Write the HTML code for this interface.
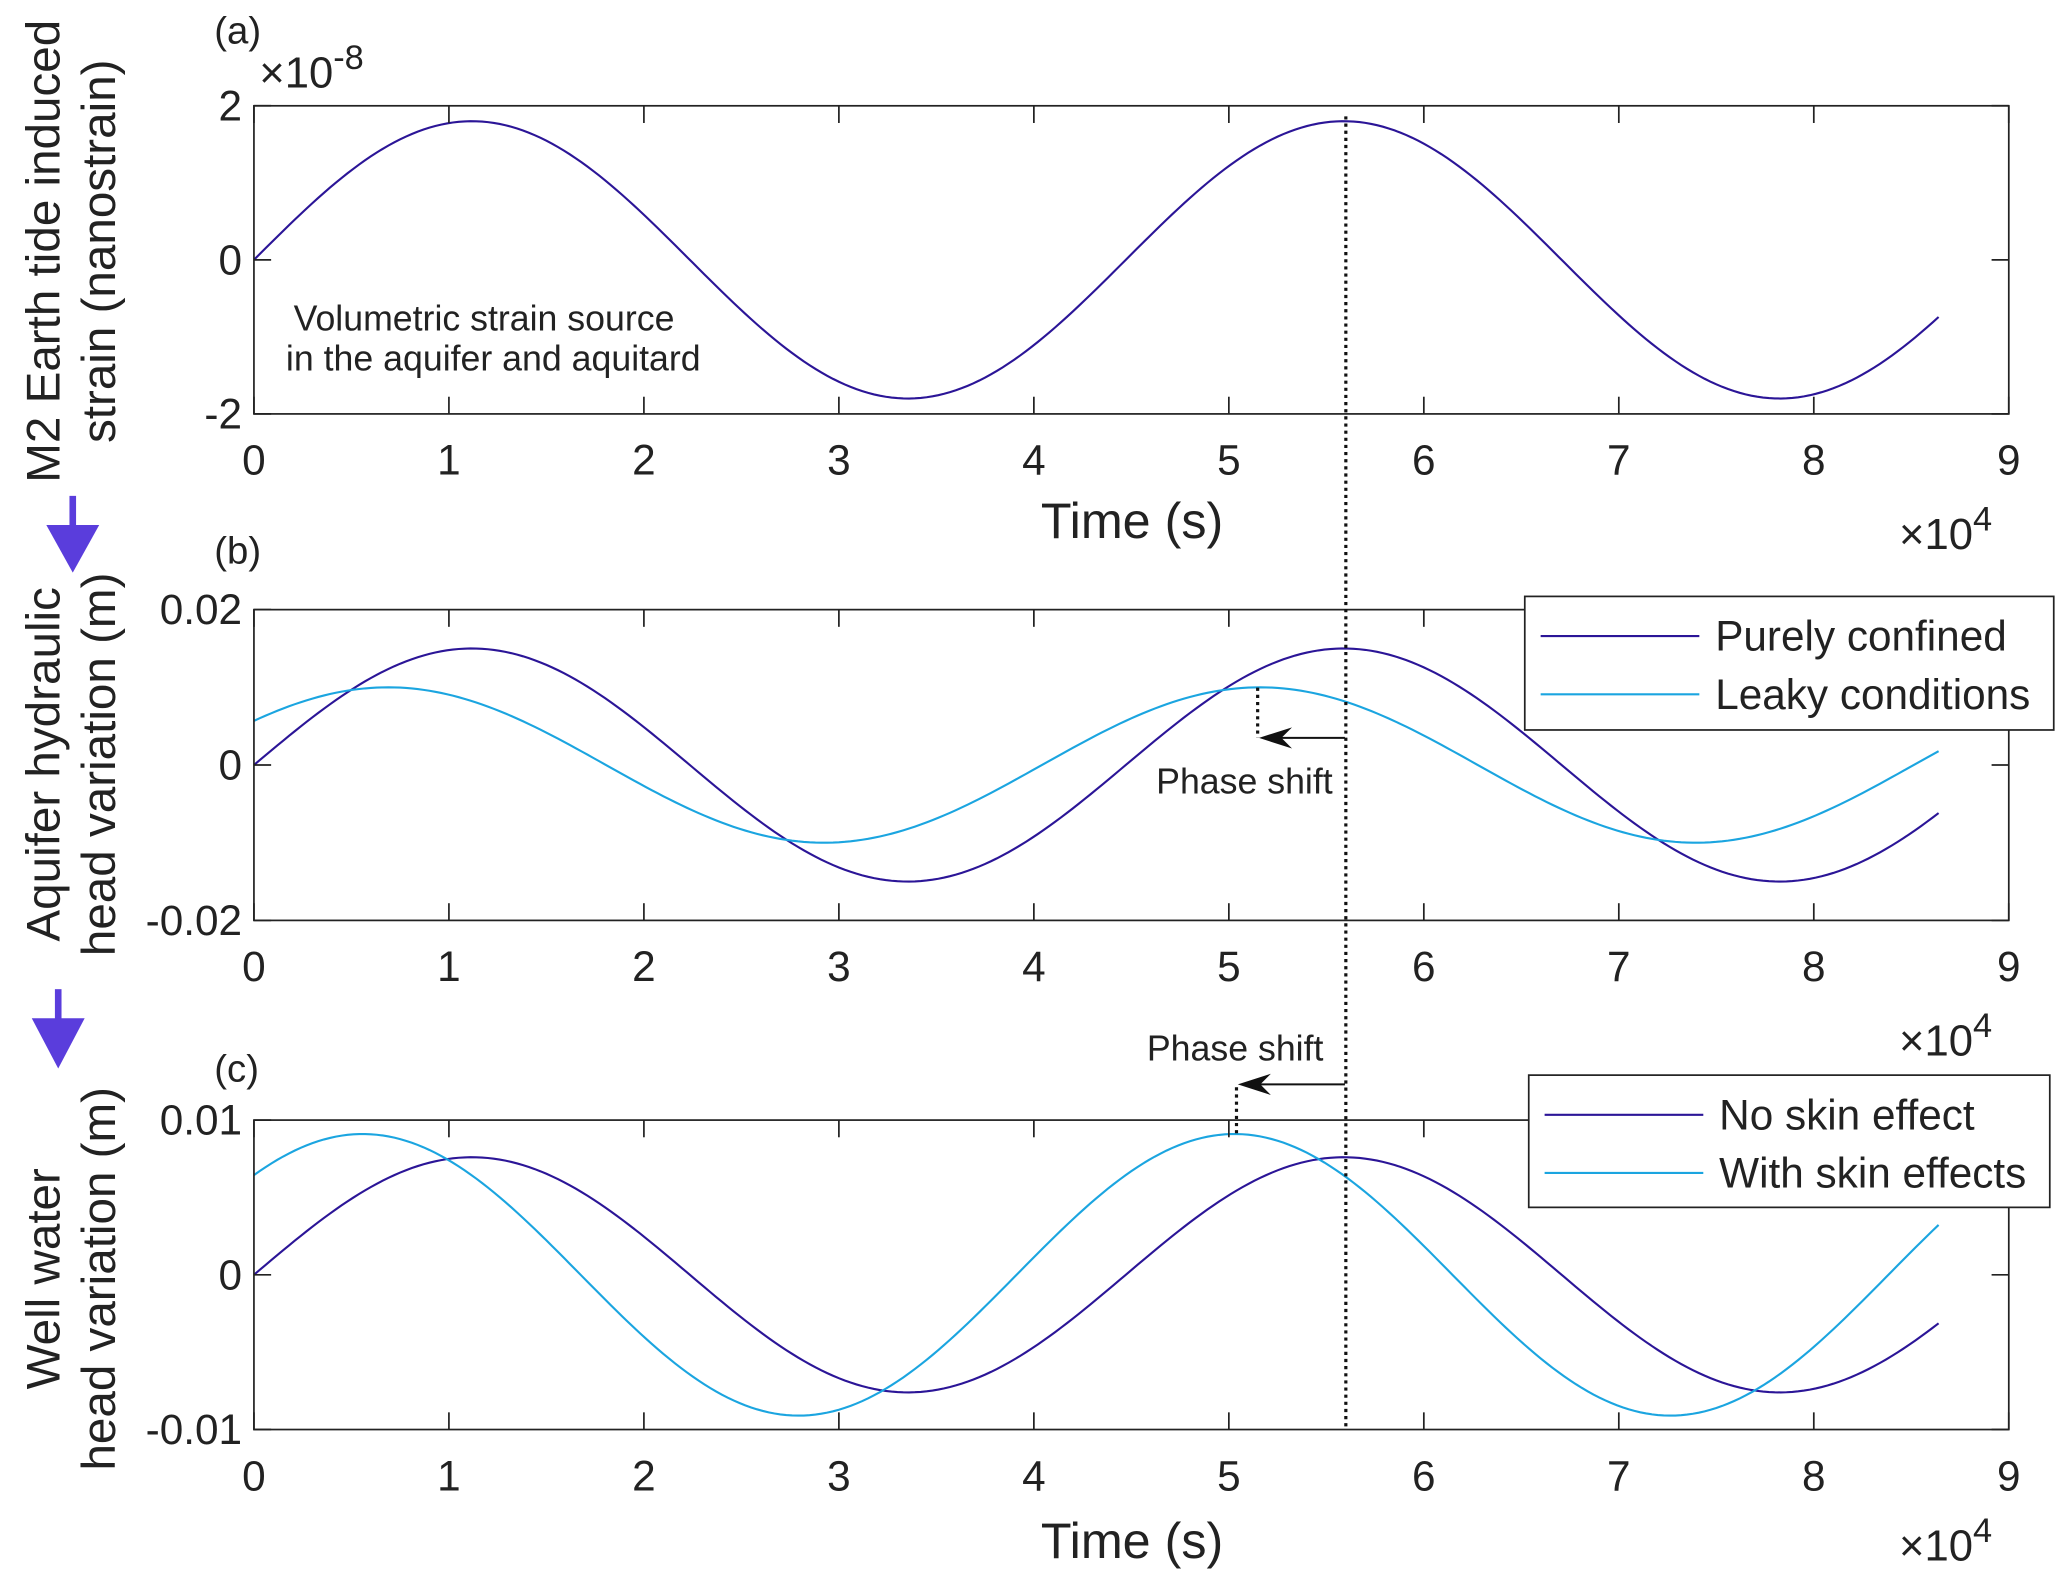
<!DOCTYPE html>
<html><head><meta charset="utf-8">
<style>
html,body{margin:0;padding:0;background:#fff;}
svg{display:block;}
text{font-family:"Liberation Sans",Arial,sans-serif;fill:#222;}
</style></head>
<body>
<svg id="chart" xmlns="http://www.w3.org/2000/svg" width="2067" height="1575" viewBox="0 0 1563 1191">
</svg>
<script>
// Time axis (seconds), ticks in units of 1e4
const xTicks = [0,1,2,3,4,5,6,7,8,9];
const tMax = 86400;               // series end time (s)
const period = 44712;             // M2 period (s)
// Panel (a): strain, units 1e-8
const aTicks = [-2,0,2];
const aTickLabels = ['-2','0','2'];
const aAmp = [1.8];
const aLead = [0];                // phase lead in seconds
// Panel (b): aquifer head (m)
const bTicks = [-0.02,0,0.02];
const bTickLabels = ['-0.02','0','0.02'];
const bNames = ['Purely confined','Leaky conditions'];
const bAmp = [0.015, 0.010];
const bLead = [0, 4300];
// Panel (c): well head (m)
const cTicks = [-0.01,0,0.01];
const cTickLabels = ['-0.01','0','0.01'];
const cNames = ['No skin effect','With skin effects'];
const cAmp = [0.0076, 0.0091];
const cLead = [0, 5600];
const refTime = 5.6e4;

const NS='http://www.w3.org/2000/svg';
const svg=document.getElementById('chart');
const colors=['#2b1597','#1ba5e0'];
function el(tag,attrs,parent){const e=document.createElementNS(NS,tag);for(const k in attrs)e.setAttribute(k,attrs[k]);(parent||svg).appendChild(e);return e;}
function txt(s,x,y,size,anchor,parent){const t=el('text',{x:x,y:y,'font-size':size,'text-anchor':anchor||'middle'},parent);t.textContent=s;return t;}

const X0=192,X1=1519;
const sx=v=>X0+(v/90000)*(X1-X0);
function panel(name,top,bot,ymin,ymax,ticks,labels,amps,leads){
  const g=el('g',{});
  
  
  const sy=v=>bot-(v-ymin)/(ymax-ymin)*(bot-top);
  amps.forEach((A,i)=>{
    let d='';
    for(let t=0;t<=tMax;t+=300){const y=A*Math.sin(2*Math.PI*(t+leads[i])/period);d+=(t?'L':'M')+sx(t).toFixed(2)+' '+sy(y).toFixed(2);}
    const p=el('path',{d:d,fill:'none',stroke:colors[i],'stroke-width':1.6},g);
    
    
  });
  const r=el('rect',{x:X0,y:top,width:X1-X0,height:bot-top,fill:'none',stroke:'#222','stroke-width':1.3},g);
  
  
  xTicks.forEach(v=>{
    const x=sx(v*1e4);
    el('line',{x1:x,y1:bot,x2:x,y2:bot-13,stroke:'#222','stroke-width':1.3},g);
    el('line',{x1:x,y1:top,x2:x,y2:top+13,stroke:'#222','stroke-width':1.3},g);
    const t=txt(String(v),x,bot+46,32,'middle',g);
    
    
  });
  ticks.forEach((v,i)=>{
    const y=sy(v);
    el('line',{x1:X0,y1:y,x2:X0+13,y2:y,stroke:'#222','stroke-width':1.3},g);
    el('line',{x1:X1,y1:y,x2:X1-13,y2:y,stroke:'#222','stroke-width':1.3},g);
    const t=txt(labels[i],X0-9,y+11,32,'end',g);
    
    
  });
  return sy;
}
panel('panel-a',80,313,-2,2,aTicks,aTickLabels,aAmp,aLead);
panel('panel-b',461,696,-0.02,0.02,bTicks,bTickLabels,bAmp,bLead);
panel('panel-c',847,1081,-0.01,0.01,cTicks,cTickLabels,cAmp,cLead);

const ref=el('line',{x1:sx(refTime),y1:88,x2:sx(refTime),y2:1081,stroke:'#111','stroke-width':2.4,'stroke-dasharray':'2.4 3'});



function legend(name,x,y,w,h,names){
  const g=el('g',{});
  
  
  el('rect',{x:x,y:y,width:w,height:h,fill:'#fff',stroke:'#222','stroke-width':1.3},g);
  names.forEach((n,i)=>{
    const yy=y+30+i*44;
    el('line',{x1:x+12,y1:yy,x2:x+132,y2:yy,stroke:colors[i],'stroke-width':1.6},g);
    const t=txt(n,x+144,yy+11,32,'start',g);
    
    
  });
}
legend('legend-b',1153,451,400,101,bNames);
legend('legend-c',1156,813,394,100,cNames);

function arrow(name,xFrom,xTo,y,yv1){
  const g=el('g',{});
  
  
  el('line',{x1:xFrom,y1:y,x2:xTo+8,y2:y,stroke:'#111','stroke-width':1.5},g);
  el('path',{d:`M${xTo} ${y} L${xTo+25} ${y-8} L${xTo+17} ${y} L${xTo+25} ${y+8} Z`,fill:'#111'},g);
  el('line',{x1:xTo-1,y1:yv1,x2:xTo-1,y2:y,stroke:'#111','stroke-width':2.4,'stroke-dasharray':'2.4 3'},g);
}
arrow('phase-shift-arrow-b',1017,952,558,520);
arrow('phase-shift-arrow-c',1017,936,820,857);
</script>
<svg style="position:absolute;left:0;top:0" width="2067" height="1575" viewBox="0 0 1563 1191" xmlns="http://www.w3.org/2000/svg">
<g font-family="Liberation Sans, Arial, sans-serif" fill="#222">
<text x="162" y="33" font-size="29">(a)</text>
<text x="162" y="426" font-size="29">(b)</text>
<text x="162" y="818" font-size="29">(c)</text>
<text x="196" y="66" font-size="33">×10<tspan font-size="26" dy="-14">-8</tspan></text>
<text x="1436" y="415" font-size="33">×10<tspan font-size="26" dy="-14">4</tspan></text>
<text x="1436" y="798" font-size="33">×10<tspan font-size="26" dy="-14">4</tspan></text>
<text x="1436" y="1180" font-size="33">×10<tspan font-size="26" dy="-14">4</tspan></text>
<text x="856" y="407" font-size="38" text-anchor="middle">Time (s)</text>
<text x="856" y="1178" font-size="38" text-anchor="middle">Time (s)</text>
<text transform="translate(45,190) rotate(-90)" font-size="36" text-anchor="middle"><tspan x="0" dy="0">M2 Earth tide induced</tspan><tspan x="0" dy="42">strain (nanostrain)</tspan></text>
<text transform="translate(45,578) rotate(-90)" font-size="36" text-anchor="middle"><tspan x="0" dy="0">Aquifer hydraulic</tspan><tspan x="0" dy="42">head variation (m)</tspan></text>
<text transform="translate(45,967) rotate(-90)" font-size="36" text-anchor="middle"><tspan x="0" dy="0">Well water</tspan><tspan x="0" dy="42">head variation (m)</tspan></text>
</g>
<g font-family="DejaVu Sans, sans-serif" fill="#111" font-size="27" text-anchor="middle">
<text x="366" y="250">Volumetric strain source</text>
<text x="373" y="280">in the aquifer and aquitard</text>
<text x="941" y="600">Phase shift</text>
<text x="934" y="802">Phase shift</text>
</g>
<g fill="#5a3ddc" stroke="#5a3ddc">
<line x1="55" y1="375" x2="55" y2="400" stroke-width="5"/>
<path d="M35 397 L75 397 L55 433 Z" stroke="none"/>
<line x1="44" y1="748" x2="44" y2="772" stroke-width="5"/>
<path d="M24 770 L64 770 L44 808 Z" stroke="none"/>
</g>
</svg>
</body></html>
